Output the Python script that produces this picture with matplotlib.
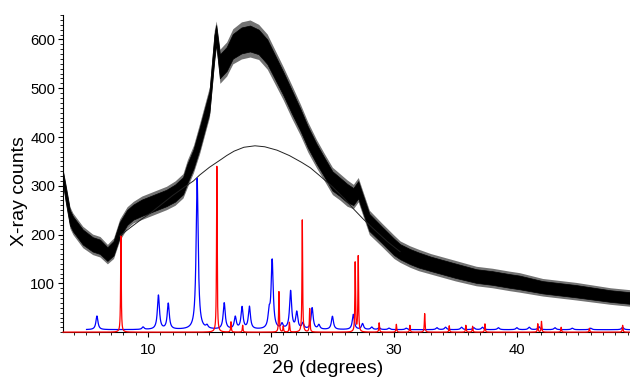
import numpy as np
import matplotlib.pyplot as plt
from matplotlib.ticker import MultipleLocator, FixedLocator

plt.rcParams['font.family'] = ['Liberation Sans', 'DejaVu Sans']

# measured scan (black): centre of the noisy trace and its full half spread
scan_x = [3.1, 3.3, 3.65, 3.9, 4.7, 5.5, 6.1, 6.7, 7.2, 7.7, 8.3, 8.8, 9.5, 10.2,
          11.0, 11.5, 12.2, 12.85, 13.2, 13.7, 14.2, 15.0, 15.4, 15.55, 15.85, 16.4,
          16.9, 17.6, 18.3, 19.0, 19.7, 20.3, 21.0, 21.7, 22.4, 23.0, 23.7, 24.3,
          25.0, 25.6, 26.2, 26.7, 27.1, 27.5, 28.0, 29.0, 30.0, 30.5, 31.3, 32.0,
          33.0, 34.0, 35.0, 36.7, 38.0, 39.4, 40.2, 42.1, 44.8, 47.6, 49.2]
scan_mid = [315, 285, 235, 222, 195, 180, 175, 160, 172, 210, 235, 246, 255, 262,
            270, 275, 285, 300, 325, 355, 397, 472, 585, 610, 545, 560,
            586, 598, 602, 595, 575, 545, 510, 472, 435, 400, 366, 340,
            310, 298, 285, 278, 292, 262, 225, 200, 175, 165, 155, 148,
            140, 133, 126, 115, 111, 105, 102, 92, 84, 74, 70]
scan_spread = [18, 22, 22, 22, 22, 21, 21, 20, 21, 22, 22, 22, 24, 24,
               24, 24, 25, 25, 28, 28, 31, 31, 35, 28, 35, 35,
               36, 38, 38, 36, 36, 35, 34, 34, 32, 31, 29, 28,
               28, 27, 27, 25, 25, 25, 25, 24, 24, 22, 22, 22,
               21, 21, 21, 20, 20, 20, 20, 18, 18, 17, 17]

# amorphous hump fit (thin black)
hump_x = [7.7, 8.5, 9.5, 10.2, 11.0, 12.0, 13.0, 13.7, 14.2, 15.0, 16.0, 16.4, 17.0,
          17.8, 18.7, 19.5, 20.5, 21.5, 22.5, 23.2, 24.0, 25.0, 26.0, 26.7, 27.5,
          28.5, 29.5, 30.5]
hump_y = [197, 213, 232, 244, 260, 280, 298, 310, 322, 338, 355, 362, 371,
          379, 382, 380, 373, 362, 348, 337, 320, 298, 273, 253, 232,
          208, 185, 165]

# calculated pattern 1 (blue): peak positions and heights
blue_pos = [5.85, 9.6, 10.85, 11.65, 14.0, 14.8, 16.2, 17.1, 17.65, 18.25, 19.85,
            20.1, 20.9, 21.6, 22.1, 22.6, 23.35, 23.9, 25.0, 26.7, 27.45, 28.2,
            28.8, 29.6, 31.0, 33.5, 34.2, 35.5, 36.5, 37.2, 38.5, 40.0, 41.0,
            41.8, 43.1, 44.5, 46.0, 48.6]
blue_h = [28, 5, 70, 53, 310, 6, 54, 25, 45, 46, 30,
          140, 10, 78, 34, 12, 44, 9, 27, 31, 12, 5,
          4, 3, 3, 4, 5, 5, 4, 5, 4, 4, 5,
          6, 4, 3, 3, 5]
blue_base = 5
blue_start = 5.0

# calculated pattern 2 (red)
red_pos = [7.8, 15.6, 16.75, 17.7, 20.65, 21.0, 21.5, 22.55, 23.15, 26.85, 27.1,
           28.8, 30.2, 31.3, 32.5, 34.5, 35.85, 36.4, 37.4, 41.7, 42.0, 43.6,
           45.9, 48.6]
red_h = [197, 340, 21, 14, 83, 12, 20, 230, 48, 142, 155,
         19, 16, 14, 38, 13, 14, 12, 17, 17, 22, 10,
         8, 14]

x = np.arange(3.1, 49.2, 0.005)


def profile(pos, heights, width):
    y = np.zeros_like(x)
    for p, h in zip(pos, heights):
        y += h * width**2 / ((x - p)**2 + width**2)
    return y


blue = profile(blue_pos, blue_h, 0.1) + blue_base
blue[x < blue_start] = np.nan
red = profile(red_pos, red_h, 0.03)

mid = np.array(scan_mid, dtype=float)
spread = np.array(scan_spread, dtype=float)

fig = plt.figure(figsize=(6.3, 3.77), dpi=100)
ax = fig.add_axes([0.1, 0.119, 0.9, 0.841])

# noisy scan: soft outer band for the spikes, solid core
ax.fill_between(scan_x, mid - spread, mid + spread, color='black', alpha=0.55,
                lw=0, zorder=2)
ax.fill_between(scan_x, mid - 0.7 * spread, mid + 0.7 * spread, color='black',
                lw=0.5, zorder=2)
ax.plot(hump_x, hump_y, color='#222222', lw=0.7, zorder=3)
ax.plot(x, blue, color='blue', lw=0.9, zorder=3)
ax.plot(x, red, color='red', lw=0.9, zorder=5, clip_on=False)

ax.set_xlim(3.09, 49.2)
ax.set_ylim(0, 650)
ax.spines['top'].set_visible(False)
ax.spines['right'].set_visible(False)
for s in ('left', 'bottom'):
    ax.spines[s].set_linewidth(0.8)

ax.xaxis.set_major_locator(FixedLocator([10, 20, 30, 40]))
ax.xaxis.set_minor_locator(MultipleLocator(1))
ax.yaxis.set_major_locator(FixedLocator([100, 200, 300, 400, 500, 600]))
ax.yaxis.set_minor_locator(MultipleLocator(10))
ax.tick_params(which='major', length=3.6, width=0.8, labelsize=10.7, pad=2)
ax.tick_params(which='minor', length=2.0, width=0.6)
ax.tick_params(axis='x', which='major', pad=4)

ax.set_xlabel('2θ (degrees)', fontsize=14)
ax.set_ylabel('X-ray counts', fontsize=14)
ax.xaxis.set_label_coords(0.466, -0.088)
ax.yaxis.set_label_coords(-0.062, 0.445)

fig.savefig('out.png', dpi=100)
